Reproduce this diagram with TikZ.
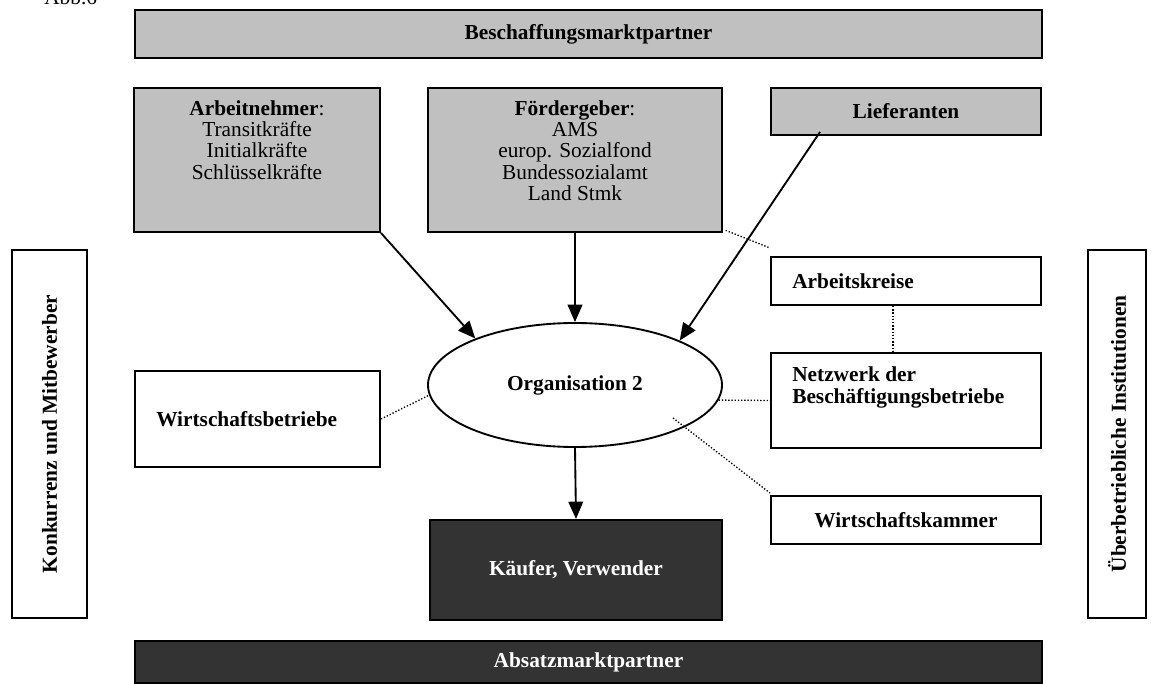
\documentclass[tikz,border=0pt]{standalone}
\usepackage{fontspec}
\setmainfont{Liberation Serif}
\usetikzlibrary{fit,arrows.meta,shapes.geometric}
\definecolor{lightfill}{HTML}{C0C0C0}
\definecolor{darkfill}{HTML}{333333}
\begin{document}
\begin{tikzpicture}[x=0.75pt,y=-0.75pt,
  frame/.style={draw=black, line width=1.5pt, inner sep=0pt},
  graybox/.style={frame, fill=lightfill},
  darkbox/.style={frame, fill=darkfill},
  whitebox/.style={frame, fill=white},
  txt/.style={font=\fontsize{16}{16}\selectfont, align=center, inner sep=0pt},
  btxt/.style={font=\fontsize{16}{17}\selectfont\bfseries, inner sep=0pt},
  wtxt/.style={btxt, text=white},
  flow/.style={line width=1.4pt, -{Triangle[length=13pt,width=11pt]}},
  link/.style={line width=1pt, dash pattern=on 1pt off 1.4pt},
]
\useasboundingbox (0,0) rectangle (1158,684);

% caption, partly above the page edge
\node[font=\fontsize{16}{16}\selectfont, anchor=base west, inner sep=0pt] (caption) at (44,5) {Abb.6};

% market partner bars
\node[graybox, fit={(135,10) (1042,58)}] (beschaffung) {};
\node[btxt] (beschaffungtxt) at (beschaffung.center) {Beschaffungsmarktpartner};
\node[darkbox, fit={(135,641) (1042,683)}] (absatz) {};
\node[wtxt] (absatztxt) at (absatz.center) {Absatzmarktpartner};

% supply side
\node[graybox, fit={(134,88) (380,232)}] (arbeit) {};
\node[txt, anchor=north] (arbeittxt) at (257,100)
  {\textbf{Arbeitnehmer}:\\Transitkräfte\\Initialkräfte\\Schlüsselkräfte};
\node[graybox, fit={(428,88) (722,232)}] (foerder) {};
\node[txt, anchor=north] (foerdertxt) at (575,100)
  {\textbf{Fördergeber}:\\AMS\\europ. Sozialfond\\Bundessozialamt\\Land Stmk};
\node[graybox, fit={(771,88) (1041,135)}] (lief) {};
\node[btxt] (lieftxt) at (lief.center) {Lieferanten};

% surrounding institutions
\node[whitebox, fit={(771,257) (1041,305)}] (akreise) {};
\node[btxt, anchor=west] (akreisetxt) at (792,281) {Arbeitskreise};
\node[whitebox, fit={(771,353) (1041,448)}] (netz) {};
\node[btxt, anchor=north west, align=left] (netztxt) at (792,366)
  {Netzwerk der\\Beschäftigungsbetriebe};
\node[whitebox, fit={(771,496) (1041,544)}] (wkammer) {};
\node[btxt] (wkammertxt) at (wkammer.center) {Wirtschaftskammer};
\node[whitebox, fit={(135,371) (380,467)}] (wbetr) {};
\node[btxt, anchor=west] (wbetrtxt) at (156,419) {Wirtschaftsbetriebe};

% side columns
\node[whitebox, fit={(12,250) (87,618)}] (konk) {};
\node[btxt, rotate=90] (konktxt) at (konk.center) {Konkurrenz und Mitbewerber};
\node[whitebox, fit={(1088,250) (1146,618)}] (ueber) {};
\node[btxt, rotate=90] (uebertxt) at (ueber.center) {Überbetriebliche Institutionen};

% organisation and customers
\node[ellipse, draw, line width=1.4pt, fill=white, inner sep=0pt,
      minimum width=294*0.75pt, minimum height=124*0.75pt] (org) at (575,385) {};
\node[btxt] (orgtxt) at (org.center) {Organisation 2};
\node[darkbox, fit={(430,520) (722,620)}] (kaeufer) {};
\node[wtxt] (kaeufertxt) at (kaeufer.center) {Käufer, Verwender};

% flows
\coordinate (liefout) at (820,132);
\draw[flow] (arbeit.south east) -- (org.155.6);
\draw[flow] (foerder.south) -- (org.north);
\draw[flow] (liefout) -- (org.23.3);
\draw[flow] (org.south) -- (kaeufer.north);

% loose relations
\coordinate (orgin) at (673,418);
\draw[link] ([xshift=2pt,yshift=2pt]foerder.south east) -- ([yshift=6pt]akreise.north west);
\draw[link] ([xshift=-9.75pt]akreise.south) -- ([xshift=-9.75pt]netz.north);
\draw[link] (org.-6) -- (netz.west);
\draw[link] (wbetr.east) -- (org.-176);
\draw[link] (orgin) -- ([yshift=1.5pt]wkammer.north west);
\end{tikzpicture}
\end{document}
